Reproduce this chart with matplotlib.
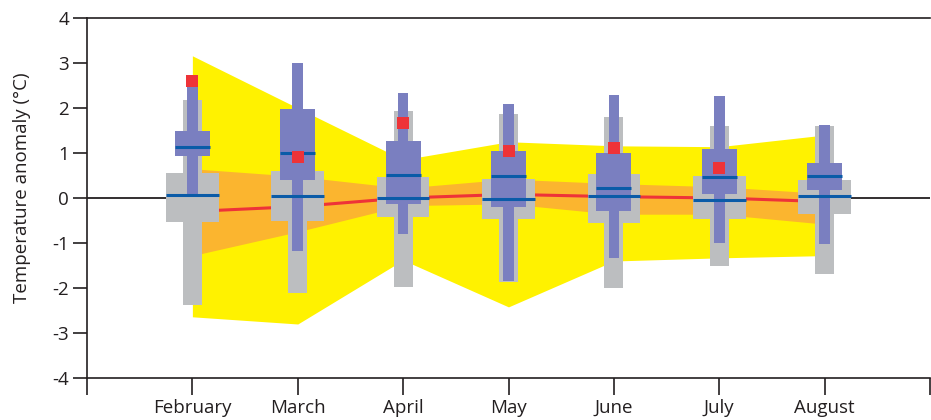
import numpy as np
import matplotlib.pyplot as plt

months = ['February', 'March', 'April', 'May', 'June', 'July', 'August']

# envelope (yellow) and inner band (orange), read at each month
yellow_top = [3.16, 2.0, 0.85, 1.25, 1.16, 1.14, 1.4]
yellow_bot = [-2.64, -2.8, -1.38, -2.42, -1.4, -1.33, -1.28]
orange_top = [0.65, 0.48, 0.22, 0.42, 0.32, 0.25, 0.1]
orange_bot = [-1.28, -0.75, -0.17, -0.13, -0.36, -0.36, -0.58]
red_line = [-0.3, -0.19, 0.0, 0.08, 0.03, 0.0, -0.08]

# grey box plots: whisker low, box low, median, box high, whisker high
grey_wlo = [-2.38, -2.1, -1.97, -1.86, -2.0, -1.5, -1.69]
grey_qlo = [-0.54, -0.52, -0.43, -0.47, -0.56, -0.47, -0.36]
grey_med = [0.07, 0.04, 0.01, -0.03, 0.05, -0.05, 0.05]
grey_qhi = [0.56, 0.6, 0.46, 0.43, 0.53, 0.5, 0.4]
grey_whi = [2.18, 1.8, 1.93, 1.87, 1.81, 1.6, 1.6]

# blue box plots
blue_wlo = [0.1, -1.18, -0.79, -1.84, -1.34, -1.0, -1.03]
blue_qlo = [0.94, 0.41, -0.13, -0.19, -0.28, 0.1, 0.18]
blue_med = [1.14, 1.01, 0.52, 0.5, 0.22, 0.47, 0.48]
blue_qhi = [1.49, 1.98, 1.27, 1.04, 0.99, 1.1, 0.78]
blue_whi = [2.55, 2.99, 2.34, 2.09, 2.29, 2.27, 1.62]

# observed values (red squares), none for August
obs_x = [1, 2, 3, 4, 5, 6]
obs_y = [2.61, 0.92, 1.66, 1.04, 1.12, 0.67]

plt.rcParams['font.family'] = ['Open Sans', 'DejaVu Sans']

x = np.arange(1, len(months) + 1)

fig = plt.figure(figsize=(9.31, 4.2), dpi=100)
ax = fig.add_axes([87 / 931, 42 / 420, 843 / 931, 360 / 420])

ax.axhline(0, color='#231f20', lw=1.3, zorder=0)

ax.fill_between(x, yellow_bot, yellow_top, color='#fff200', lw=0, zorder=1)
ax.fill_between(x, orange_bot, orange_top, color='#fbb52f', lw=0, zorder=2)
ax.plot(x, red_line, color='#ee3338', lw=2.2, zorder=3)

grey = '#bcbec0'
blue = '#7a7fc0'
med_c = '#0a5ba8'

gw = np.array(grey_whi) - np.array(grey_wlo)
gq = np.array(grey_qhi) - np.array(grey_qlo)
ax.bar(x, gw, bottom=grey_wlo, width=0.18, color=grey, lw=0, zorder=4)
ax.bar(x, gq, bottom=grey_qlo, width=0.5, color=grey, lw=0, zorder=4)
ax.hlines(grey_med, x - 0.25, x + 0.25, color=med_c, lw=2.2, zorder=7)

bw = np.array(blue_whi) - np.array(blue_wlo)
bq = np.array(blue_qhi) - np.array(blue_qlo)
ax.bar(x, bw, bottom=blue_wlo, width=0.1, color=blue, lw=0, zorder=5)
ax.bar(x, bq, bottom=blue_qlo, width=0.33, color=blue, lw=0, zorder=5)
ax.hlines(blue_med, x - 0.165, x + 0.165, color=med_c, lw=2.2, zorder=7)

ax.scatter(obs_x, obs_y, marker='s', s=75, color='#ee3338', lw=0, zorder=8)

ax.set_xlim(0, 8)
ax.set_ylim(-4, 4)
ax.set_xticks(np.arange(0, 9))
ax.set_xticklabels([''] + months + [''])
ax.set_yticks(np.arange(-4, 5))
ax.set_yticklabels([str(v) for v in range(-4, 5)])

ax.spines['right'].set_visible(False)
for s in ['left', 'top', 'bottom']:
    ax.spines[s].set_linewidth(1.2)
    ax.spines[s].set_color('#231f20')

ax.tick_params(axis='y', direction='out', length=10, width=1.2, labelsize=13.5,
               colors='#231f20', pad=3)
ax.tick_params(axis='x', direction='out', length=12, width=1.2, labelsize=13.5,
               colors='#231f20', pad=3)

ax.set_ylabel('Temperature anomaly (°C)', fontsize=13.5, color='#231f20')
ax.yaxis.set_label_coords(-0.066, 0.53)

fig.savefig('out.png', dpi=100)
